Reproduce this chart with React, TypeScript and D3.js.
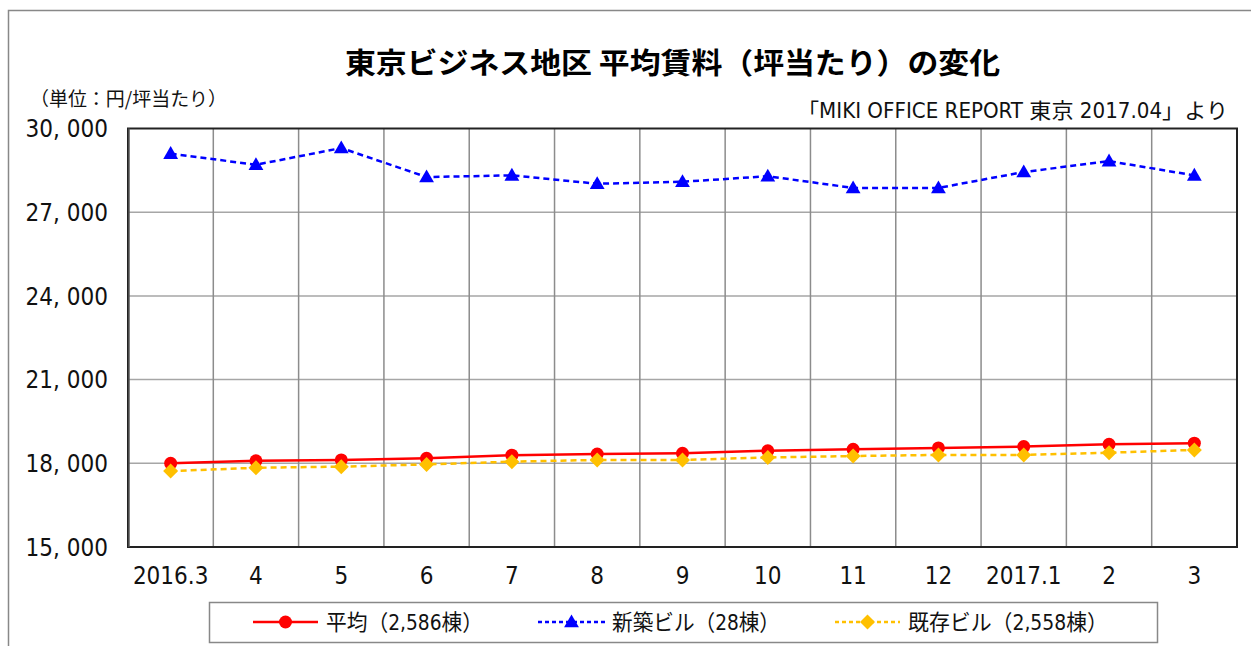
import React from "react";
import * as d3 from "d3";

const categories = ["2016.3", "4", "5", "6", "7", "8", "9", "10", "11", "12", "2017.1", "2", "3"];
const avgValues = [18000, 18090, 18120, 18180, 18290, 18330, 18360, 18450, 18500, 18550, 18600, 18680, 18720];
const newValues = [29100, 28700, 29300, 28260, 28320, 28020, 28090, 28290, 27870, 27870, 28440, 28830, 28320];
const oldValues = [17720, 17840, 17880, 17960, 18060, 18120, 18120, 18210, 18260, 18300, 18300, 18380, 18480];
const yTicks = [15000, 18000, 21000, 24000, 27000, 30000];
const seriesNames = ["平均（2,586棟）", "新築ビル（28棟）", "既存ビル（2,558棟）"];
const titleText = "東京ビジネス地区 平均賃料（坪当たり）の変化";
const unitText = "（単位：円/坪当たり）";
const sourceText = "「MIKI OFFICE REPORT 東京 2017.04」より";

const W = 1251;
const H = 646;
const plot = { left: 128, right: 1237, top: 128.5, bottom: 547 };
const numFont = "'Liberation Sans Narrow', 'DejaVu Sans Condensed', 'Noto Sans CJK JP', sans-serif";
const cjkFont = "'Noto Sans CJK JP', sans-serif";

export default function App() {
  const x = d3.scaleBand<string>().domain(categories).range([plot.left, plot.right]).padding(0);
  const y = d3.scaleLinear().domain([15000, 30000]).range([plot.bottom, plot.top]);
  const cx = (c: string) => (x(c) as number) + x.bandwidth() / 2;
  const line = d3
    .line<number>()
    .x((_, i) => cx(categories[i]))
    .y((d) => y(d));
  const fmt = (v: number) => d3.format(",")(v).replace(",", ", ");

  const tri = d3.symbol(d3.symbolTriangle, 95)();
  const dia = (s: number) => `M0,${-s}L${s},0L0,${s}L${-s},0Z`;

  const series = [
    { values: avgValues, color: "#FF0000", dash: undefined, marker: "circle" },
    { values: newValues, color: "#0000FF", dash: "6,4", marker: "tri" },
    { values: oldValues, color: "#FFC000", dash: "6,4", marker: "dia" },
  ];

  const renderMarker = (m: string, color: string, px: number, py: number, key: any) => {
    if (m === "circle") return <circle key={key} cx={px} cy={py} r={6.5} fill={color} />;
    if (m === "tri") return <path key={key} d={tri as string} transform={`translate(${px},${py + 1})`} fill={color} />;
    return <path key={key} d={dia(7.5)} transform={`translate(${px},${py})`} fill={color} />;
  };

  const legendItems = [
    { x0: 253, x1: 318, tx: 326, tl: 157 },
    { x0: 538, x1: 605, tx: 612, tl: 168 },
    { x0: 835, x1: 900, tx: 908, tl: 200 },
  ];

  return (
    <svg
      width={W}
      height={H}
      style={{ position: "absolute", left: 0, top: 0, background: "#fff" }}
    >
      <rect x={0} y={0} width={W} height={H} fill="#fff" />
      <rect x={8.5} y={10.5} width={1300} height={700} fill="none" stroke="#888" strokeWidth={1.5} />

      {/* horizontal gridlines */}
      {yTicks.slice(1, -1).map((t) => (
        <line key={"h" + t} x1={plot.left} x2={plot.right} y1={y(t)} y2={y(t)} stroke="#a6a6a6" strokeWidth={1.5} />
      ))}
      {/* vertical gridlines */}
      {categories.slice(1).map((c) => (
        <line key={"v" + c} x1={x(c) as number} x2={x(c) as number} y1={plot.top} y2={plot.bottom} stroke="#8c8c8c" strokeWidth={1.5} />
      ))}
      {/* plot border */}
      <rect
        x={plot.left}
        y={plot.top}
        width={plot.right - plot.left}
        height={plot.bottom - plot.top}
        fill="none"
        stroke="#222"
        strokeWidth={2}
      />
      <line x1={plot.left + 1} x2={plot.left + 1} y1={plot.top} y2={plot.bottom} stroke="#555" strokeWidth={1.5} />

      {/* y tick labels */}
      {yTicks.map((t) => (
        <text key={"yt" + t} x={108} y={y(t)} dy="0.36em" textAnchor="end" fontFamily={numFont} fontSize={24} fill="#111">
          {fmt(t)}
        </text>
      ))}
      {/* x tick labels */}
      {categories.map((c) => (
        <text key={"xt" + c} x={cx(c)} y={584} textAnchor="middle" fontFamily={numFont} fontSize={24} fill="#111">
          {c}
        </text>
      ))}

      {/* series */}
      {series.map((s, si) => (
        <g key={"s" + si}>
          <path d={line(s.values) as string} fill="none" stroke={s.color} strokeWidth={2.5} strokeDasharray={s.dash} />
          {s.values.map((v, i) => renderMarker(s.marker, s.color, cx(categories[i]), y(v), i))}
        </g>
      ))}

      {/* title */}
      <text
        x={345}
        y={74}
        fontFamily={cjkFont}
        fontWeight="bold"
        fontSize={29}
        fill="#000"
        textLength={655}
        lengthAdjust="spacingAndGlyphs"
      >
        {titleText}
      </text>
      <text
        x={30}
        y={106}
        fontFamily={cjkFont}
        fontSize={19}
        fill="#111"
        textLength={197}
        lengthAdjust="spacingAndGlyphs"
      >
        {unitText}
      </text>
      <text
        x={797}
        y={118}
        fontFamily={numFont}
        fontSize={21}
        fill="#111"
        textLength={431}
        lengthAdjust="spacingAndGlyphs"
      >
        {sourceText}
      </text>

      {/* legend */}
      <rect x={209.5} y={602.5} width={948} height={40} fill="#fff" stroke="#888" strokeWidth={1.5} />
      {legendItems.map((li, i) => {
        const s = series[i];
        const my = 622;
        return (
          <g key={"lg" + i}>
            <line x1={li.x0} x2={li.x1} y1={my} y2={my} stroke={s.color} strokeWidth={2.5} strokeDasharray={s.dash ? "4,3" : undefined} />
            {renderMarker(s.marker, s.color, (li.x0 + li.x1) / 2, my, "m")}
            <text
              x={li.tx}
              y={my}
              dy="0.36em"
              fontFamily={numFont}
              fontSize={22}
              fill="#111"
              textLength={li.tl}
              lengthAdjust="spacingAndGlyphs"
            >
              {seriesNames[i]}
            </text>
          </g>
        );
      })}
    </svg>
  );
}
